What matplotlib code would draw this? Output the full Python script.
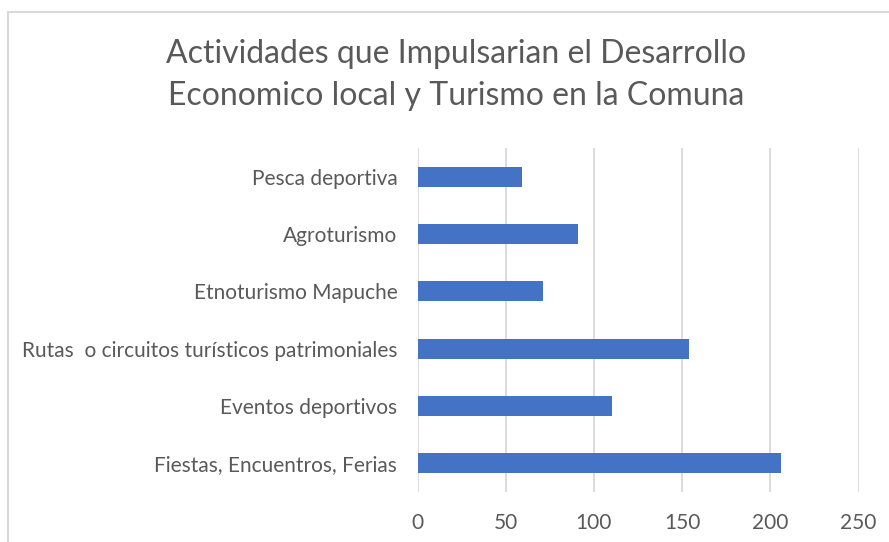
import matplotlib
matplotlib.use("Agg")
import matplotlib.pyplot as plt
from matplotlib.patches import Rectangle

categories = [
    "Fiestas, Encuentros, Ferias",
    "Eventos deportivos",
    "Rutas  o circuitos turísticos patrimoniales",
    "Etnoturismo Mapuche",
    "Agroturismo",
    "Pesca deportiva",
]
values = [206, 110, 154, 71, 91, 59]
xticks = [0, 50, 100, 150, 200, 250]
title = "Actividades que Impulsarian el Desarrollo\nEconomico local y Turismo en la Comuna"

W, H = 889, 542
fig = plt.figure(figsize=(W / 100, H / 100), dpi=100)
plt.rcParams["font.family"] = ["Lato", "DejaVu Sans"]
text_color = "#595959"
grid_color = "#d9d9d9"

# chart frame
fig.patches.append(Rectangle((8 / W, -0.1), 1.2, 1 - 12 / H + 0.1,
                             transform=fig.transFigure, fill=False,
                             edgecolor=grid_color, linewidth=1.5))

ax = fig.add_axes([417.5 / W, 1 - 492 / H, (858.5 - 417.5) / W, (492 - 148) / H])
ypos = list(range(len(categories)))
ax.barh(ypos, values, height=0.35, color="#4472C4", zorder=3)
ax.set_xlim(0, 250)
ax.set_ylim(-0.5, len(categories) - 0.5)
ax.set_xticks(xticks)
ax.set_xticklabels([str(t) for t in xticks])
ax.set_yticks(ypos)
ax.set_yticklabels(categories)
ax.grid(axis="x", color=grid_color, linewidth=1.3, zorder=0)
for s in ax.spines.values():
    s.set_visible(False)
ax.tick_params(axis="both", length=0, colors=text_color, labelsize=15)
ax.tick_params(axis="x", pad=15)
ax.tick_params(axis="y", pad=14.5)

fig.text(456 / W, 1 - 75 / H, title, ha="center", va="center",
         fontsize=23, color=text_color, linespacing=1.5)

fig.savefig("out.png", dpi=100)
